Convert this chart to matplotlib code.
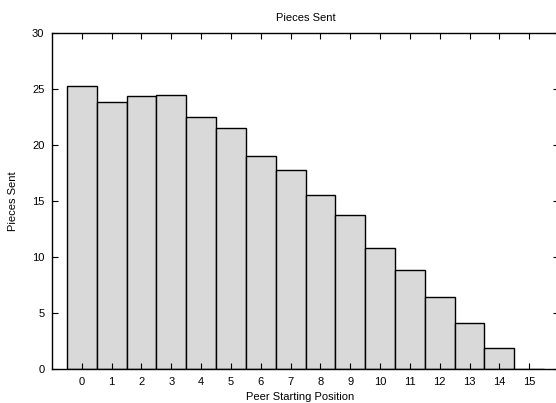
import matplotlib
matplotlib.use("Agg")
import matplotlib.pyplot as plt
import numpy as np

# peer starting position vs. pieces sent
positions = list(range(16))
pieces_sent = [25.29, 23.83, 24.40, 24.49, 22.55, 21.56, 19.06, 17.82,
               15.57, 13.74, 10.78, 8.82, 6.46, 4.08, 1.85, 0.0]
y_ticks = [0, 5, 10, 15, 20, 25, 30]

plt.rcParams['font.family'] = ['Liberation Sans', 'DejaVu Sans']

fig = plt.figure(figsize=(5.56, 4.03), dpi=100)
ax = fig.add_axes([52 / 556, 1 - 369 / 403, 507 / 556, 335.7 / 403])

ax.bar(positions, pieces_sent, width=1.0, color='#d9d9d9',
       edgecolor='black', linewidth=1.0)

ax.set_xlim(-1, 16)
ax.set_ylim(0, 30)
ax.set_xticks(positions)
ax.set_yticks(y_ticks)
ax.tick_params(direction='in', length=4, width=0.8, labelsize=8,
               top=True, right=True)
ax.tick_params(axis='x', pad=5.5)
ax.tick_params(axis='y', pad=5.5)

for s in ax.spines.values():
    s.set_linewidth(1.0)

ax.set_title('Pieces Sent', fontsize=8, pad=9)
ax.set_xlabel('Peer Starting Position', fontsize=8)
ax.xaxis.set_label_coords(0.489, -0.068)
ax.set_ylabel('Pieces Sent', fontsize=8)
ax.yaxis.set_label_coords(-0.068, 0.5)

fig.savefig('out.png', dpi=100)
